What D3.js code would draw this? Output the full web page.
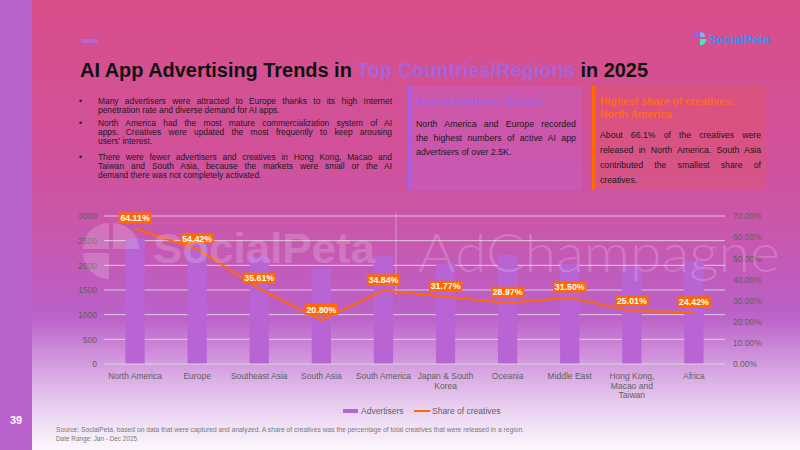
<!DOCTYPE html>
<html lang="en">
<head>
<meta charset="UTF-8">
<title>AI App Advertising Trends</title>
<style>
  html, body { margin: 0; padding: 0; }
  body { width: 800px; height: 450px; overflow: hidden; }
  svg { display: block; font-family: "Liberation Sans", Arial, sans-serif; }
</style>
</head>
<body>
<div id="chart"></div>
<script src="https://cdn.jsdelivr.net/npm/d3@7"></script>
<script>
// ---- data ----
const regions = ["North America", "Europe", "Southeast Asia", "South Asia", "South America",
  "Japan & South Korea", "Oceania", "Middle East", "Hong Kong, Macao and Taiwan", "Africa"];
const tickLabels = ["North America", "Europe", "Southeast Asia", "South Asia", "South America",
  "Japan & South\nKorea", "Oceania", "Middle East", "Hong Kong,\nMacao and\nTaiwan", "Africa"];
const advertisers = [2550, 2600, 2180, 1950, 2200, 2020, 2210, 2030, 1980, 2080];
const shareOfCreatives = [64.11, 54.42, 35.61, 20.80, 34.84, 31.77, 28.97, 31.50, 25.01, 24.42];
const leftTicks = [0, 500, 1000, 1500, 2000, 2500, 3000];
const rightTicks = [0, 10, 20, 30, 40, 50, 60, 70];

const bullets = [
  ["Many advertisers were attracted to Europe thanks to its high Internet",
   "penetration rate and diverse demand for AI apps."],
  ["North America had the most mature commercialization system of AI",
   "apps. Creatives were updated the most frequently to keep arousing",
   "users' interest."],
  ["There were fewer advertisers and creatives in Hong Kong, Macao and",
   "Taiwan and South Asia, because the markets were small or the AI",
   "demand there was not completely activated."]
];
const box1Body = ["North America and Europe recorded", "the highest numbers of active AI app", "advertisers of over 2.5K."];
const box2Title = ["Highest share of creatives:", "North America"];
const box2Body = ["About 66.1% of the creatives were", "released in North America. South Asia", "contributed the smallest share of", "creatives."];

const W = 800, H = 450;
const purple = "#b864d4", orange = "#ff6a00", grey = "#5f5f5f";

const svg = d3.select("#chart").append("svg").attr("width", W).attr("height", H);
const defs = svg.append("defs");
const bg = defs.append("linearGradient").attr("id", "bg").attr("x1", 0).attr("y1", 0).attr("x2", 0).attr("y2", 1);
[[0, "#d74f8a"], [0.35, "#d1519a"], [0.55, "#c659b2"], [0.68, "#bb5fc6"], [0.71, "#bd64ca"],
 [0.81, "#d39ddf"], [0.9, "#e8cdef"], [1, "#fbf8fc"]].forEach(s =>
  bg.append("stop").attr("offset", s[0]).attr("stop-color", s[1]));

svg.append("rect").attr("width", W).attr("height", H).attr("fill", "url(#bg)");
// side strip + page number
svg.append("rect").attr("width", 32).attr("height", H).attr("fill", "#b962cd");
svg.append("text").attr("x", 16).attr("y", 424).attr("text-anchor", "middle")
  .attr("fill", "#fff").attr("font-weight", "bold").attr("font-size", 11).text("39");

// header
svg.append("rect").attr("x", 81).attr("y", 39).attr("width", 17).attr("height", 4).attr("fill", "#b565d8");
const title = svg.append("text").attr("x", 80).attr("y", 77).attr("font-size", 20).attr("font-weight", "bold");
title.append("tspan").attr("fill", "#111").text("AI App Advertising Trends in ");
title.append("tspan").attr("fill", "#a862dc").text("Top Countries/Regions");
title.append("tspan").attr("fill", "#111").text(" in 2025");
title.attr("textLength", 568).attr("lengthAdjust", "spacingAndGlyphs");

// top-right logo
const logo = svg.append("g").attr("transform", "translate(699,38)");
logo.append("path").attr("d", d3.arc()({innerRadius: 0, outerRadius: 6.5, startAngle: -Math.PI / 2, endAngle: 0})).attr("fill", "#a25be0");
logo.append("path").attr("d", d3.arc()({innerRadius: 0, outerRadius: 5, startAngle: 0.08, endAngle: Math.PI / 2})).attr("fill", "#7fb6f5").attr("transform", "translate(1,-1)");
logo.append("path").attr("d", d3.arc()({innerRadius: 0, outerRadius: 6.5, startAngle: Math.PI / 2, endAngle: Math.PI})).attr("fill", "#4fe0c8").attr("transform", "translate(1,1)");
svg.append("text").attr("x", 709).attr("y", 44).attr("font-size", 12).attr("font-weight", "bold")
  .attr("fill", "#3b8ef2").text("SocialPeta");

// justified lines: spread the extra room over the word gaps
function para(g, lines, x, y0, step, width, size, fill) {
  lines.forEach((ln, i) => {
    const t = g.append("text").attr("x", x).attr("y", y0 + i * step).attr("font-size", size)
      .attr("fill", fill).text(ln);
    if (i < lines.length - 1) {
      const gaps = ln.split(" ").length - 1;
      const extra = width - t.node().getComputedTextLength();
      if (gaps > 0) t.attr("word-spacing", extra / gaps);
    }
  });
}

// bullet list
const bl = svg.append("g");
const paraStart = [104, 126, 160];
bullets.forEach((p, i) => {
  bl.append("text").attr("x", 79).attr("y", paraStart[i]).attr("font-size", 8.5).attr("fill", "#1a1a1a").text("•");
  para(bl, p, 98, paraStart[i], 9, 294, 8.4, "#1a1a1a");
});

// box 1
svg.append("rect").attr("x", 408).attr("y", 86).attr("width", 174).attr("height", 104).attr("fill", "rgba(185,105,225,0.28)");
svg.append("rect").attr("x", 408).attr("y", 86).attr("width", 3).attr("height", 104).attr("fill", "#a65ee2");
svg.append("text").attr("x", 416).attr("y", 106).attr("font-size", 10.5).attr("font-weight", "bold")
  .attr("fill", "#a862e0").text("Most advertisers: Europe");
para(svg, box1Body, 416, 126.5, 14, 160, 8.8, "#1a1a1a");

// box 2
svg.append("rect").attr("x", 592).attr("y", 86).attr("width", 174).attr("height", 104).attr("fill", "rgba(240,90,60,0.22)");
svg.append("rect").attr("x", 592).attr("y", 86).attr("width", 3).attr("height", 104).attr("fill", orange);
box2Title.forEach((t, i) => svg.append("text").attr("x", 600).attr("y", 104.5 + i * 13.5)
  .attr("font-size", 10.5).attr("font-weight", "bold").attr("fill", "#ff6a1a").text(t));
para(svg, box2Body, 600, 137.5, 15.3, 161, 8.7, "#1a1a1a");

// ---- chart ----
const x = d3.scaleBand().domain(regions).range([104, 725]);
const yL = d3.scaleLinear().domain([0, 3000]).range([364, 216]);
const yR = d3.scaleLinear().domain([0, 70]).range([364, 216]);
const barW = x.bandwidth() * 0.31;
const cx = r => x(r) + x.bandwidth() / 2;

const chart = svg.append("g");
chart.selectAll(".grid").data(leftTicks.slice(1)).join("line").attr("class", "grid")
  .attr("x1", 104).attr("x2", 725).attr("y1", d => yL(d)).attr("y2", d => yL(d))
  .attr("stroke", "rgba(235,235,235,0.75)").attr("stroke-width", 1);
// faint vertical divider in the slide
chart.append("line").attr("x1", 396).attr("x2", 396).attr("y1", 213).attr("y2", 295)
  .attr("stroke", "rgba(255,255,255,0.45)").attr("stroke-width", 0.8);

chart.selectAll(".bar").data(regions).join("rect").attr("class", "bar")
  .attr("x", d => cx(d) - barW / 2).attr("width", barW)
  .attr("y", (d, i) => yL(advertisers[i])).attr("height", (d, i) => yL(0) - yL(advertisers[i]))
  .attr("fill", purple);

// watermarks
const wm = svg.append("g").attr("fill", "#fff").attr("opacity", 0.18);
const ic = wm.append("g").attr("transform", "translate(111,251)");
ic.append("path").attr("d", d3.arc()({innerRadius: 0, outerRadius: 26, startAngle: -Math.PI / 2, endAngle: 0, cornerRadius: 4})).attr("transform", "translate(-2,-2)");
ic.append("path").attr("d", d3.arc()({innerRadius: 0, outerRadius: 26, startAngle: 0, endAngle: Math.PI / 2, cornerRadius: 4})).attr("transform", "translate(2,-2)");
ic.append("path").attr("d", d3.arc()({innerRadius: 0, outerRadius: 26, startAngle: Math.PI, endAngle: Math.PI * 1.5, cornerRadius: 4})).attr("transform", "translate(-2,2)");
wm.append("text").attr("x", 153).attr("y", 263).attr("font-size", 42).attr("font-weight", "bold")
  .attr("textLength", 222).attr("lengthAdjust", "spacingAndGlyphs").text("SocialPeta");
wm.append("text").attr("x", 418).attr("y", 272).attr("font-size", 54).attr("font-weight", 300)
  .attr("font-family", "Lato, 'Open Sans', sans-serif")
  .attr("textLength", 362).attr("lengthAdjust", "spacingAndGlyphs").text("AdChampagne");

// axes
chart.append("line").attr("x1", 104).attr("x2", 725).attr("y1", yL(0)).attr("y2", yL(0))
  .attr("stroke", "#d9d9d9").attr("stroke-width", 1);
const axL = chart.append("g").attr("transform", "translate(104,0)")
  .call(d3.axisLeft(yL).tickValues(leftTicks).tickSize(0).tickPadding(7).tickFormat(d3.format("d")));
const axR = chart.append("g").attr("transform", "translate(725,0)")
  .call(d3.axisRight(yR).tickValues(rightTicks).tickSize(0).tickPadding(8).tickFormat(d => d.toFixed(2) + "%"));
const axB = chart.append("g").attr("transform", "translate(0," + yL(0) + ")")
  .call(d3.axisBottom(x).tickSize(0).tickPadding(9));
[axL, axR, axB].forEach(a => {
  a.select(".domain").remove();
  a.selectAll("text").attr("fill", grey).attr("font-size", 8.5).attr("font-family", "'Liberation Sans', Arial, sans-serif");
});
axB.selectAll("text").each(function(d, i) {
  const t = d3.select(this).text("");
  tickLabels[i].split("\n").forEach((s, j) => t.append("tspan").attr("x", 0).attr("dy", j ? 9.6 : "0.71em").text(s));
});

// line + labels
const line = d3.line().x((d, i) => cx(regions[i])).y(d => yR(d));
chart.append("path").datum(shareOfCreatives).attr("d", line).attr("fill", "none")
  .attr("stroke", orange).attr("stroke-width", 2);
const lab = chart.selectAll(".lab").data(shareOfCreatives).join("g").attr("class", "lab")
  .attr("transform", (d, i) => "translate(" + cx(regions[i]) + "," + (yR(d) - 10.5) + ")");
lab.append("rect").attr("fill", orange);
lab.append("text").attr("text-anchor", "middle").attr("dy", "0.35em").attr("font-size", 8.8)
  .attr("font-weight", "bold").attr("fill", "#fff").text(d => d.toFixed(2) + "%");
lab.each(function() {
  const g = d3.select(this), w = g.select("text").node().getComputedTextLength() + 3.5;
  g.select("rect").attr("x", -w / 2).attr("y", -5.5).attr("width", w).attr("height", 11);
});

// legend
const lg = svg.append("g").attr("font-size", 8.5).attr("fill", grey);
lg.append("rect").attr("x", 343).attr("y", 409).attr("width", 15).attr("height", 4).attr("fill", purple);
lg.append("text").attr("x", 361).attr("y", 414).text("Advertisers");
lg.append("line").attr("x1", 414).attr("x2", 430).attr("y1", 411).attr("y2", 411).attr("stroke", orange).attr("stroke-width", 2);
lg.append("text").attr("x", 432).attr("y", 414).text("Share of creatives");

// source
const src = svg.append("g").attr("font-size", 6.4).attr("fill", "#7a7a7a");
src.append("text").attr("x", 56).attr("y", 432).attr("textLength", 468).attr("lengthAdjust", "spacingAndGlyphs")
  .text("Source: SocialPeta, based on data that were captured and analyzed. A share of creatives was the percentage of total creatives that were released in a region.");
src.append("text").attr("x", 56).attr("y", 441).text("Date Range: Jan - Dec 2025");
</script>
</body>
</html>
